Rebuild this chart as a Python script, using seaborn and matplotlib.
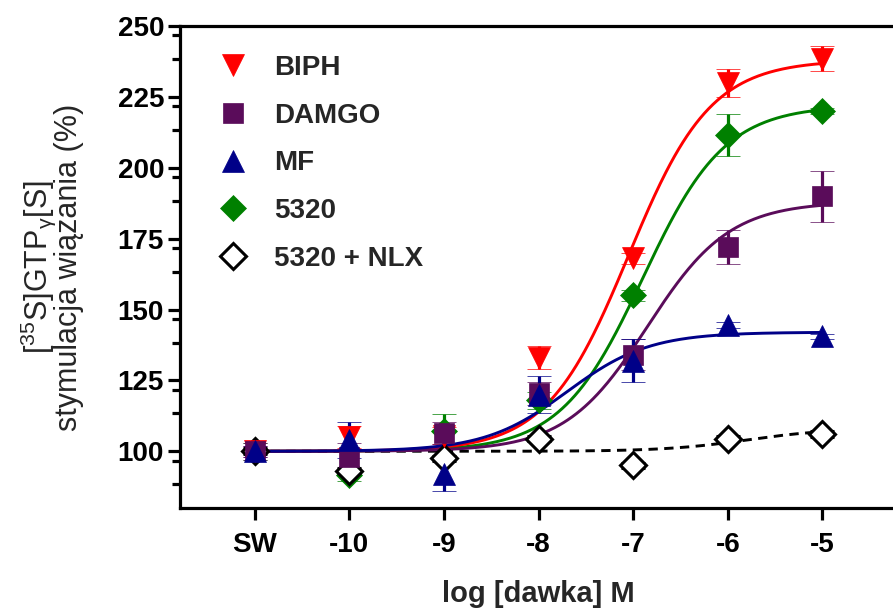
import numpy as np
import pandas as pd
import matplotlib
matplotlib.use("Agg")
import matplotlib.pyplot as plt
import seaborn as sns
from matplotlib.lines import Line2D
from matplotlib.ticker import FixedLocator

# Doses on a log scale; the vehicle control (SW) sits one decade below -10
doses = [-11, -10, -9, -8, -7, -6, -5]
dose_labels = ["SW", "-10", "-9", "-8", "-7", "-6", "-5"]

series_names = ["BIPH", "DAMGO", "MF", "5320", "5320 + NLX"]

biph_mean = [100, 105, 105.5, 133, 168, 230, 238.5]
biph_sem = [2, 4, 3, 4, 2, 5, 4.5]
damgo_mean = [100, 98, 106.5, 120.5, 134, 172, 190]
damgo_sem = [3, 5, 4, 4, 5.5, 6, 9]
mf_mean = [100, 104, 92, 120, 132, 144.5, 140.5]
mf_sem = [2, 6.5, 6, 6.5, 7.5, 1, 1]
c5320_mean = [100, 91.5, 107, 118, 155, 211.5, 220]
c5320_sem = [3, 2, 6, 3, 2, 7.5, 1]
nlx_mean = [100, 93, 97.5, 104.5, 95, 104.5, 106]
nlx_sem = [1, 1, 1, 1, 1, 1, 1]

# Sigmoidal dose-response fit parameters for each series
fit_bottom = [100, 100, 100, 100, 100]
fit_top = [238, 188, 142, 222, 108]
fit_logec50 = [-7.05, -6.85, -7.7, -6.9, -5.8]
fit_hill = [1.0, 1.0, 1.0, 1.0, 1.0]

colors = ["#FF0000", "#5A0C5A", "#000088", "#008000", "#000000"]
markers = ["v", "s", "^", "D", "D"]
marker_sizes = [16, 15, 16, 13, 13]
face_colors = ["#FF0000", "#5A0C5A", "#000088", "#008000", "white"]
line_styles = ["-", "-", "-", "-", (0, (3.2, 2.2))]

means = [biph_mean, damgo_mean, mf_mean, c5320_mean, nlx_mean]
sems = [biph_sem, damgo_sem, mf_sem, c5320_sem, nlx_sem]

sns.set_theme(style="ticks")
plt.rcParams["font.family"] = ["Liberation Sans", "DejaVu Sans"]
plt.rcParams["mathtext.fontset"] = "custom"
plt.rcParams["mathtext.rm"] = "Liberation Sans"
plt.rcParams["mathtext.it"] = "Liberation Sans:italic"
plt.rcParams["mathtext.bf"] = "Liberation Sans:bold"

fig = plt.figure(figsize=(8.93, 6.08), dpi=100)
ax = fig.add_axes([180 / 893, 100 / 608, 738 / 893, 482 / 608])

x_curve = np.linspace(doses[0], doses[-1], 400)


def dose_response(x, bottom, top, logec50, hill):
    return bottom + (top - bottom) / (1 + 10 ** ((logec50 - x) * hill))


# drawing order: green first, blue last (on top)
order = [3, 4, 0, 1, 2]
for i in order:
    curve = pd.DataFrame({
        "dose": x_curve,
        "response": dose_response(x_curve, fit_bottom[i], fit_top[i],
                                  fit_logec50[i], fit_hill[i]),
    })
    sns.lineplot(data=curve, x="dose", y="response", ax=ax, color=colors[i],
                 linewidth=2.1, linestyle=line_styles[i], legend=False)
    ax.errorbar(doses, means[i], yerr=sems[i], fmt=markers[i], ms=marker_sizes[i],
                mfc=face_colors[i], mec=colors[i], mew=2.2 if i == 4 else 0.5,
                ecolor=colors[i], elinewidth=2.3, capsize=8.4, capthick=2.4,
                linestyle="none")

ax.set_xlim(-11.79, -3.99)
ax.set_ylim(80, 250)

ax.xaxis.set_major_locator(FixedLocator(doses))
ax.set_xticklabels(dose_labels)
ax.yaxis.set_major_locator(FixedLocator([100, 125, 150, 175, 200, 225, 250]))
ax.yaxis.set_minor_locator(FixedLocator(
    [80 + 25 / 3 * k for k in range(1, 21) if (k % 3) != 0 and 80 + 25 / 3 * k < 250]))

for sp in ax.spines.values():
    sp.set_linewidth(2.3)
    sp.set_color("black")

ax.tick_params(axis="both", which="major", length=8.5, width=2.3, color="black",
               labelsize=20, labelcolor="black")
ax.tick_params(axis="y", which="major", pad=3)
ax.tick_params(axis="x", which="major", pad=9)
ax.tick_params(axis="y", which="minor", length=5.8, width=2.3, color="black")
for lab in ax.get_xticklabels() + ax.get_yticklabels():
    lab.set_fontweight("bold")

ax.set_xlabel("log [dawka] M", fontsize=21, fontweight="bold", labelpad=14)
ax.xaxis.set_label_coords(0.485, -0.1495)
ax.set_ylabel("[$\\mathregular{^{35}}$S]GTP$\\mathregular{_{γ}}$[S]\nstymulacja wiązania (%)",
              fontsize=22, linespacing=0.85, labelpad=24)

handles = [
    Line2D([], [], linestyle="none", marker=markers[i], ms=marker_sizes[i],
           mfc=face_colors[i], mec=colors[i], mew=2.2 if i == 4 else 0.5)
    for i in range(5)
]
ax.legend(handles, series_names, loc="upper left", bbox_to_anchor=(0.053, 0.9395),
          frameon=False, borderpad=0, borderaxespad=0, handlelength=1.0,
          handletextpad=0.99, labelspacing=0.78,
          prop={"weight": "bold", "size": 20})

fig.savefig("out.png", dpi=100)
